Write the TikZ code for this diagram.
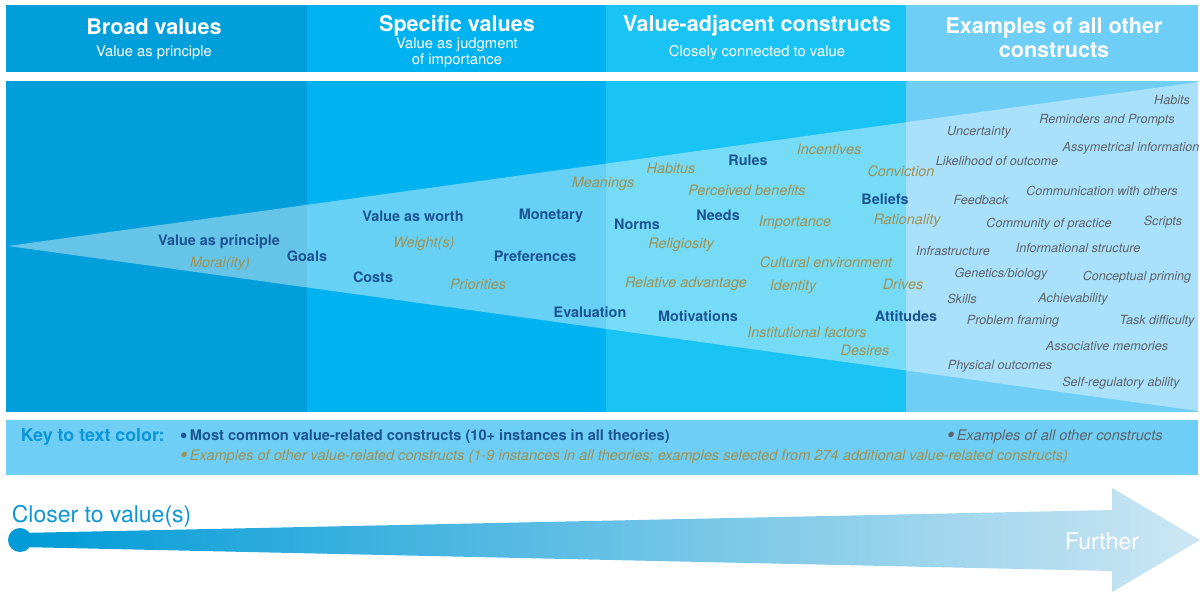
\documentclass[tikz,border=0pt]{standalone}
\usepackage{fontspec}
\setmainfont{TeX Gyre Heros}
\usepackage{xcolor}
\usepackage{tikz}
\usetikzlibrary{positioning,calc}

\definecolor{colA}{RGB}{0,158,219}
\definecolor{colB}{RGB}{0,178,239}
\definecolor{colC}{RGB}{25,195,243}
\definecolor{colD}{RGB}{110,206,245}
\definecolor{navy}{RGB}{28,84,145}
\definecolor{gold}{RGB}{160,146,82}
\definecolor{slate}{RGB}{95,99,108}
\definecolor{keyblue}{RGB}{10,150,215}
\definecolor{arrowA}{RGB}{0,155,215}
\definecolor{arrowB}{RGB}{50,182,228}
\definecolor{arrowC}{RGB}{205,230,243}

\newcommand{\keydot}{\raisebox{-0.9pt}{\fontsize{11}{8}\selectfont\textbullet}\,}

\begin{document}
\begin{tikzpicture}[x=0.5pt,y=-0.5pt, >=latex, thick,
    corelbl/.style={text=navy, font=\fontsize{7.2}{8}\selectfont\bfseries, inner sep=0pt},
    otherlbl/.style={text=gold, font=\fontsize{7.2}{8}\selectfont\itshape, inner sep=0pt},
    extralbl/.style={text=slate, font=\fontsize{6.3}{7}\selectfont\itshape, inner sep=0pt},
    headtitle/.style={text=white, font=\fontsize{10.8}{12}\selectfont\bfseries, inner sep=0pt, align=center},
    headsub/.style={text=white, font=\fontsize{7.4}{6.5}\selectfont, inner sep=0pt, align=center},
    keytext/.style={font=\fontsize{7.3}{8}\selectfont, inner sep=0pt, anchor=west}]
    \useasboundingbox (0,0) rectangle (1202,592);

    % Header band
    \fill[colA] (6,5) rectangle (307,72);
    \fill[colB] (307,5) rectangle (606,72);
    \fill[colC] (606,5) rectangle (906,72);
    \fill[colD] (906,5) rectangle (1198,72);
    \node[headtitle] (hbroad) at (154,27) {Broad values};
    \node[headsub] (sbroad) at (154,53) {Value as principle};
    \node[headtitle] (hspec) at (457,26) {Specific values};
    \node[headsub] (sspec) at (457,53) {Value as judgment\\of importance};
    \node[headtitle] (hadj) at (757,26) {Value-adjacent constructs};
    \node[headsub] (sadj) at (757,53) {Closely connected to value};
    \node[headtitle] (hall) at (1054,38) {Examples of all other\\constructs};

    % Columns
    \fill[colA] (6,81) rectangle (307,412);
    \fill[colB] (307,81) rectangle (606,412);
    \fill[colC] (606,81) rectangle (906,412);
    \fill[colD] (906,81) rectangle (1198,412);

    % Wedge
    \fill[white, fill opacity=0.4] (8,246) -- (1198,82) -- (1198,411) -- cycle;

    % Most common constructs
    \node[corelbl] (principle) at (219,242) {Value as principle};
    \node[corelbl] (goals) at (307,256) {Goals};
    \node[corelbl] (costs) at (373,277) {Costs};
    \node[corelbl] (worth) at (413,216) {Value as worth};
    \node[corelbl] (monetary) at (551,216) {Monetary};
    \node[corelbl] (prefs) at (535,256) {Preferences};
    \node[corelbl] (evaluation) at (590,312) {Evaluation};
    \node[corelbl] (norms) at (637,224) {Norms};
    \node[corelbl] (needs) at (718,215) {Needs};
    \node[corelbl] (rules) at (748,160) {Rules};
    \node[corelbl] (motivations) at (698,316) {Motivations};
    \node[corelbl] (beliefs) at (885,199) {Beliefs};
    \node[corelbl] (attitudes) at (906,316) {Attitudes};

    % Other value-related constructs
    \node[otherlbl] (morality) at (220,264) {Moral(ity)};
    \node[otherlbl] (weights) at (424,244) {Weight(s)};
    \node[otherlbl] (priorities) at (478,284) {Priorities};
    \node[otherlbl] (meanings) at (603,184) {Meanings};
    \node[otherlbl] (habitus) at (671,168) {Habitus};
    \node[otherlbl] (benefits) at (747,190) {Perceived benefits};
    \node[otherlbl] (incentives) at (829,149) {Incentives};
    \node[otherlbl] (conviction) at (901,171) {Conviction};
    \node[otherlbl] (religiosity) at (681,245) {Religiosity};
    \node[otherlbl] (importance) at (795,223) {Importance};
    \node[otherlbl] (rationality) at (907,221) {Rationality};
    \node[otherlbl] (advantage) at (686,284) {Relative advantage};
    \node[otherlbl] (culture) at (826,262) {Cultural environment};
    \node[otherlbl] (identity) at (793,287) {Identity};
    \node[otherlbl] (drives) at (903,284) {Drives};
    \node[otherlbl] (institutional) at (807,332) {Institutional factors};
    \node[otherlbl] (desires) at (865,350) {Desires};

    % All other constructs
    \node[extralbl] (habits) at (1172,100) {Habits};
    \node[extralbl] (reminders) at (1107,120) {Reminders and Prompts};
    \node[extralbl] (uncertainty) at (979,132) {Uncertainty};
    \node[extralbl] (asym) at (1131,148) {Assymetrical information};
    \node[extralbl] (likelihood) at (997,161) {Likelihood of outcome};
    \node[extralbl] (communication) at (1102,191) {Communication with others};
    \node[extralbl] (feedback) at (981,200) {Feedback};
    \node[extralbl] (community) at (1049,224) {Community of practice};
    \node[extralbl] (scripts) at (1163,222) {Scripts};
    \node[extralbl] (infra) at (953,251) {Infrastructure};
    \node[extralbl] (infostruct) at (1078,248) {Informational structure};
    \node[extralbl] (genetics) at (1001,274) {Genetics/biology};
    \node[extralbl] (priming) at (1137,277) {Conceptual priming};
    \node[extralbl] (skills) at (962,299) {Skills};
    \node[extralbl] (achievability) at (1073,299) {Achievability};
    \node[extralbl] (framing) at (1013,321) {Problem framing};
    \node[extralbl] (difficulty) at (1157,321) {Task difficulty};
    \node[extralbl] (associative) at (1107,346) {Associative memories};
    \node[extralbl] (physical) at (1000,366) {Physical outcomes};
    \node[extralbl] (selfreg) at (1121,383) {Self-regulatory ability};

    % Key
    \fill[colD] (6,420) rectangle (1198,475);
    \node[keytext, text=keyblue, font=\fontsize{8.9}{10}\selectfont\bfseries] (keyhead) at (20,437) {Key to text color:};
    \node[keytext, text=navy, font=\fontsize{7.3}{8}\selectfont\bfseries] (keycore) at (179,437) {\keydot Most common value-related constructs (10+ instances in all theories)};
    \node[keytext, text=gold, font=\fontsize{7.3}{8}\selectfont\itshape] (keyother) at (179,457) {\keydot Examples of other value-related constructs (1-9 instances in all theories; examples selected from 274 additional value-related constructs)};
    \node[keytext, text=slate, font=\fontsize{7.3}{8}\selectfont\itshape] (keyall) at (946,437) {\keydot Examples of all other constructs};

    % Distance arrow
    \coordinate (start) at (20,540);
    \coordinate (tip) at (1200,540);
    \shade[left color=arrowA, middle color=arrowB, right color=arrowC]
        (20,533) -- (1112,510) -- (1112,488) -- (tip) -- (1112,592) -- (1112,571) -- (20,547) -- cycle;
    \fill[arrowA] (start) circle (6pt);
    \node[inner sep=0pt, anchor=west, text=keyblue, font=\fontsize{11.5}{12}\selectfont] (closer) at (11,516) {Closer to value(s)};
    \node[inner sep=0pt, text=white, font=\fontsize{11.5}{12}\selectfont] (further) at (1102,541) {Further};
\end{tikzpicture}
\end{document}
